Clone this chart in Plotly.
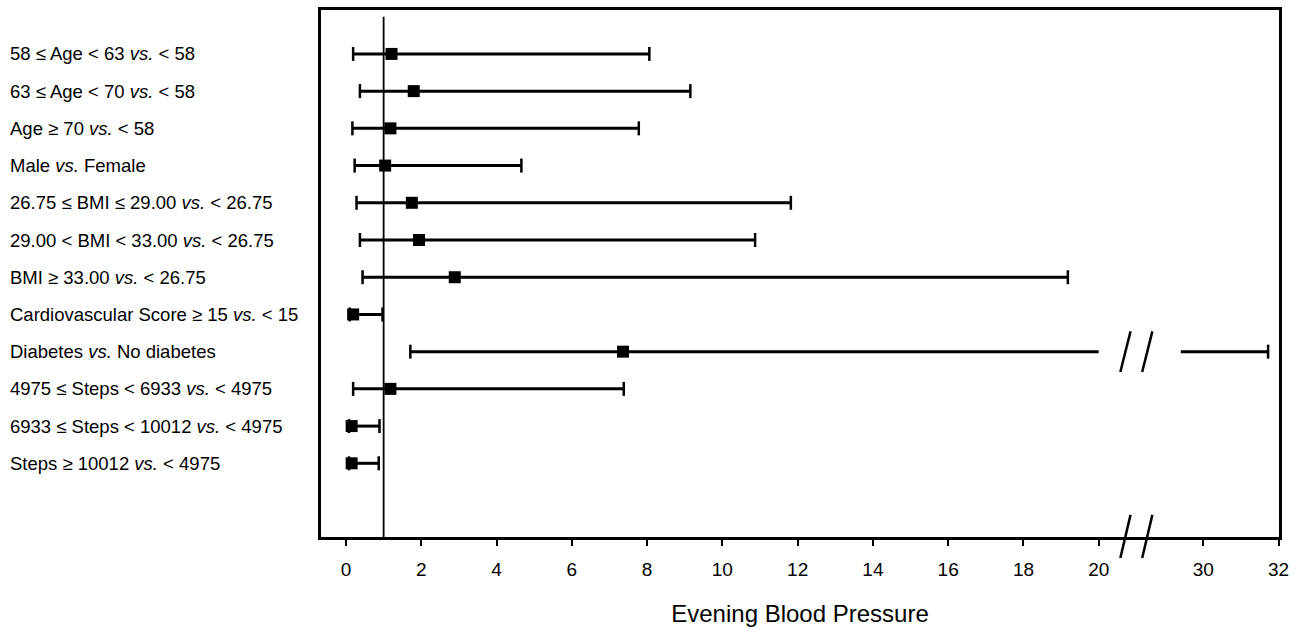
import plotly.graph_objects as go

# ---------------- data ----------------
labels = [
    "58 ≤ Age &lt; 63 <i>vs.</i> &lt; 58",
    "63 ≤ Age &lt; 70 <i>vs.</i> &lt; 58",
    "Age ≥ 70 <i>vs.</i> &lt; 58",
    "Male <i>vs.</i> Female",
    "26.75 ≤ BMI ≤ 29.00 <i>vs.</i> &lt; 26.75",
    "29.00 &lt; BMI &lt; 33.00 <i>vs.</i> &lt; 26.75",
    "BMI ≥ 33.00 <i>vs.</i> &lt; 26.75",
    "Cardiovascular Score ≥ 15 <i>vs.</i> &lt; 15",
    "Diabetes <i>vs.</i> No diabetes",
    "4975 ≤ Steps &lt; 6933 <i>vs.</i> &lt; 4975",
    "6933 ≤ Steps &lt; 10012 <i>vs.</i> &lt; 4975",
    "Steps ≥ 10012 <i>vs.</i> &lt; 4975",
]
estimate = [1.21, 1.80, 1.18, 1.04, 1.75, 1.94, 2.89, 0.19, 7.36, 1.18, 0.15, 0.15]
lower = [0.19, 0.37, 0.17, 0.23, 0.28, 0.37, 0.44, 0.10, 1.71, 0.19, 0.08, 0.08]
upper = [8.06, 9.15, 7.78, 4.66, 11.82, 10.87, 19.18, 0.97, 31.72, 7.38, 0.89, 0.87]

tick_values = [0, 2, 4, 6, 8, 10, 12, 14, 16, 18, 20, 30, 32]
tick_text = [str(v) for v in tick_values]
reference_value = 1
x_title = "Evening Blood Pressure"

# axis break: values between GAP_LO and GAP_HI are hidden
GAP_LO, GAP_HI, SHIFT = 20.0, 29.4, 7.22


def disp(v):
    return v if v <= GAP_LO else v - SHIFT


n = len(labels)
ypos = list(range(1, n + 1))

seg_x, seg_y = [], []
cap_x, cap_y = [], []
for y, lo, hi in zip(ypos, lower, upper):
    if hi > GAP_LO:
        seg_x += [disp(lo), disp(GAP_LO), None, disp(GAP_HI), disp(hi), None]
        seg_y += [y, y, None, y, y, None]
    else:
        seg_x += [lo, hi, None]
        seg_y += [y, y, None]
    cap_x += [disp(lo), disp(hi)]
    cap_y += [y, y]

fig = go.Figure()
fig.add_trace(go.Scatter(x=seg_x, y=seg_y, mode="lines",
                         line=dict(color="black", width=3),
                         hoverinfo="skip", showlegend=False))
fig.add_trace(go.Scatter(x=cap_x, y=cap_y, mode="markers",
                         marker=dict(symbol="line-ns", size=10, color="black",
                                     line=dict(color="black", width=2.5)),
                         hoverinfo="skip", showlegend=False))
fig.add_trace(go.Scatter(x=[disp(v) for v in estimate], y=ypos, mode="markers",
                         marker=dict(symbol="square", size=12, color="black"),
                         showlegend=False))

W, H = 1299, 628
L, R, T, B = 321, 20, 10, 91
pw = W - L - R

y_top, y_bot = -0.18, 13.98

shapes = [
    dict(type="line", xref="x", yref="y", x0=reference_value, x1=reference_value,
         y0=0, y1=y_bot, line=dict(color="black", width=1.8)),
]
# break marks
mark_center = 21.0
for off in (-0.29, 0.29):
    m = mark_center + off
    row = ypos[8]
    shapes.append(dict(type="line", xref="x", yref="y",
                       x0=m + 0.135, y0=row - 0.545, x1=m - 0.135, y1=row + 0.545,
                       line=dict(color="black", width=2.5)))
    shapes.append(dict(type="line", xref="x", yref="paper",
                       x0=m + 0.135, y0=0.042, x1=m - 0.135, y1=-0.04,
                       line=dict(color="black", width=2.5)))

annotations = []
for y, lab in zip(ypos, labels):
    annotations.append(dict(xref="paper", yref="y", x=-(L - 8) / pw, y=y,
                            xanchor="left", yanchor="middle", text=lab,
                            showarrow=False,
                            font=dict(family="Liberation Sans, Arial", size=18.5,
                                      color="black")))

fig.update_layout(
    width=W, height=H,
    margin=dict(l=L, r=R, t=T, b=B, autoexpand=False),
    paper_bgcolor="white", plot_bgcolor="white",
    font=dict(family="Liberation Sans, Arial", color="black"),
    shapes=shapes, annotations=annotations,
    xaxis=dict(range=[-0.664, disp(32) + 0.01],
               tickvals=[disp(v) for v in tick_values], ticktext=tick_text,
               showline=True, mirror=True, linewidth=2.5, linecolor="black",
               ticks="outside", ticklen=6, tickwidth=2, tickcolor="black",
               showgrid=False, zeroline=False, automargin=False,
               tickfont=dict(size=19, color="black"),
               ticklabelstandoff=7,
               title=dict(text=x_title, font=dict(size=24, color="black"),
                          standoff=27)),
    yaxis=dict(range=[y_bot, y_top], showline=True, mirror=True, linewidth=2.5,
               linecolor="black", showticklabels=False, ticks="",
               showgrid=False, zeroline=False, automargin=False),
)

fig.write_html("out.html", config={"displayModeBar": False},
               post_script="document.body.style.margin='0';document.body.style.overflow='hidden';")
